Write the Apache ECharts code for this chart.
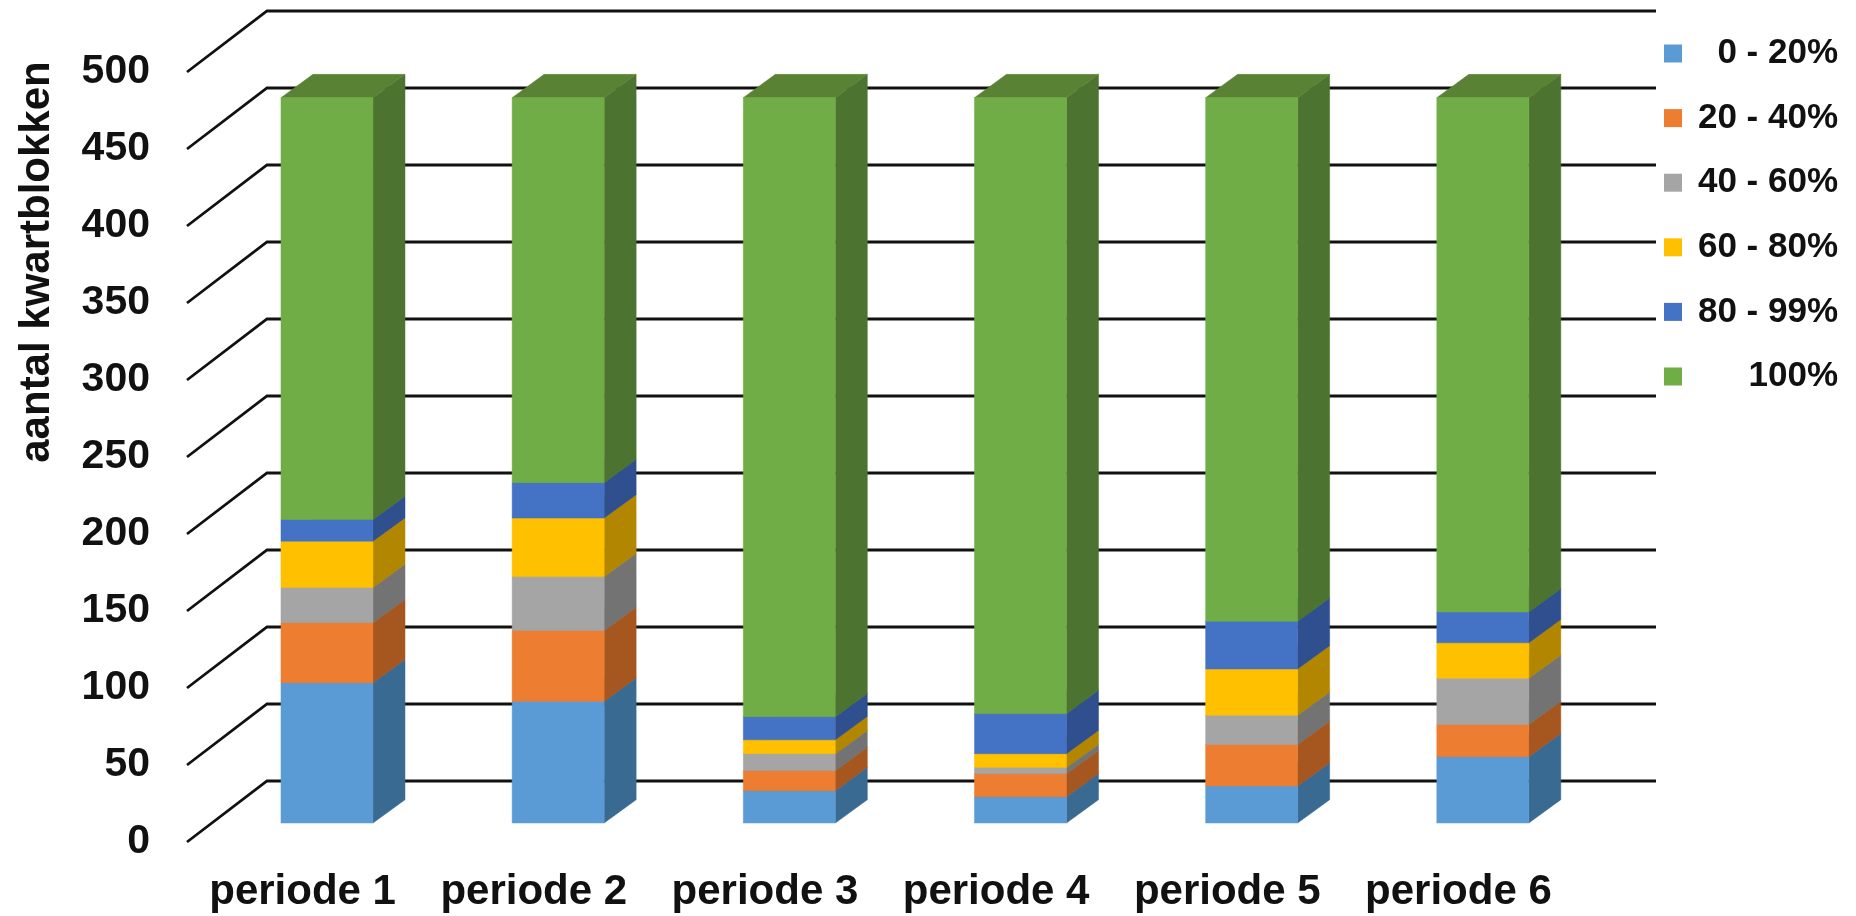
<!DOCTYPE html>
<html>
<head>
<meta charset="utf-8">
<style>html,body{margin:0;padding:0;background:#fff}#c{width:1856px;height:916px}</style>
<script src="https://cdn.jsdelivr.net/npm/echarts@6/dist/echarts.min.js"></script>
</head>
<body>
<div id="c"></div>
<script>
const categories = ['periode 1','periode 2','periode 3','periode 4','periode 5','periode 6'];
const band0to20  = [91, 79, 21, 17, 24, 43];
const band20to40 = [39, 46, 13, 15, 27, 21];
const band40to60 = [23, 35, 11, 4, 19, 30];
const band60to80 = [30, 38, 9, 9, 30, 23];
const band80to99 = [14, 23, 15, 26, 31, 20];
const band100    = [274, 250, 402, 400, 340, 334];
const yTicks = [0,50,100,150,200,250,300,350,400,450,500];
const FONT = '"Liberation Sans", Arial, sans-serif';

const bands = [
  {name:'0 - 20%',  values:band0to20,  front:'#5B9BD5', side:'#386A92', top:'#4A7FAE'},
  {name:'20 - 40%', values:band20to40, front:'#ED7D31', side:'#A6561F', top:'#C0672A'},
  {name:'40 - 60%', values:band40to60, front:'#A5A5A5', side:'#737373', top:'#878787'},
  {name:'60 - 80%', values:band60to80, front:'#FFC000', side:'#B38600', top:'#CF9C00'},
  {name:'80 - 99%', values:band80to99, front:'#4472C4', side:'#2F4F8E', top:'#385EA0'},
  {name:'100%',     values:band100,    front:'#70AD47', side:'#4C7430', top:'#5A8235'}
];

const cum = categories.map(() => 0);
const barSeries = bands.map(b => {
  const data = b.values.map((v,i) => { const d=[i,cum[i],cum[i]+v]; cum[i]+=v; return d; });
  return {
    type:'custom', name:b.name, z:5,
    itemStyle:{color:b.front},
    encode:{x:0,y:[1,2]},
    data,
    renderItem(params, api){
      const cat = api.value(0);
      const p0 = api.coord([cat, api.value(1)]);
      const p1 = api.coord([cat, api.value(2)]);
      const bw = api.size([1,0])[0]*0.398;
      const x0 = p0[0]+24.4-bw/2, x1 = x0+bw;
      const yb = p0[1]-19, yt = p1[1]-19;
      const dx = 32, dy = 23.3;
      const poly = (pts,fill) => ({type:'polygon',shape:{points:pts},style:{fill,stroke:fill,lineWidth:0.5}});
      return {type:'group',children:[
        poly([[x1,yb],[x1+dx,yb-dy],[x1+dx,yt-dy],[x1,yt]], b.side),
        poly([[x0,yt],[x1,yt],[x1+dx,yt-dy],[x0+dx,yt-dy]], b.top),
        poly([[x0,yb],[x1,yb],[x1,yt],[x0,yt]], b.front)
      ]};
    }
  };
});

const gridSeries = {
  type:'custom', z:1, silent:true, legendHoverLink:false,
  encode:{y:0},
  data:yTicks.map(t => [t]),
  renderItem(params, api){
    const cs = params.coordSys;
    const y = api.coord([0, api.value(0)])[1];
    return {type:'polyline',
      shape:{points:[[cs.x,y],[cs.x+80,y-61],[cs.x+cs.width+82,y-61]]},
      style:{stroke:'#111',lineWidth:2.8,fill:null}};
  }
};

const chart = echarts.init(document.getElementById('c'), null, {renderer:'canvas'});
chart.setOption({
  animation:false,
  backgroundColor:'#fff',
  grid:{left:187,width:1387,top:72,height:770,outerBoundsMode:'none'},
  xAxis:{type:'category',data:categories,
    axisLine:{show:false},axisTick:{show:false},splitLine:{show:false},
    axisLabel:{fontFamily:FONT,fontWeight:'bold',fontSize:42,color:'#111',margin:29,interval:0}},
  yAxis:{type:'value',min:0,max:500,interval:50,
    axisLine:{show:false},axisTick:{show:false},splitLine:{show:false},
    axisLabel:{fontFamily:FONT,fontWeight:'bold',fontSize:41,color:'#111',margin:37},
    name:'aantal kwartblokken',nameLocation:'middle',nameRotate:90,nameGap:129,
    nameTextStyle:{fontFamily:FONT,fontWeight:'bold',fontSize:42,color:'#111',padding:[0,0,0,390]}},
  legend:{
    orient:'vertical',left:1659,top:31,itemWidth:18,itemHeight:18,itemGap:29.6,
    icon:'rect',selectedMode:false,
    data:bands.map(b=>b.name),
    formatter:n=>'{a|'+n+'}',
    textStyle:{rich:{a:{fontFamily:FONT,fontWeight:'bold',fontSize:35,color:'#111',width:151,align:'right',lineHeight:40}}}
  },
  series:[gridSeries].concat(barSeries)
});
</script>
</body>
</html>
